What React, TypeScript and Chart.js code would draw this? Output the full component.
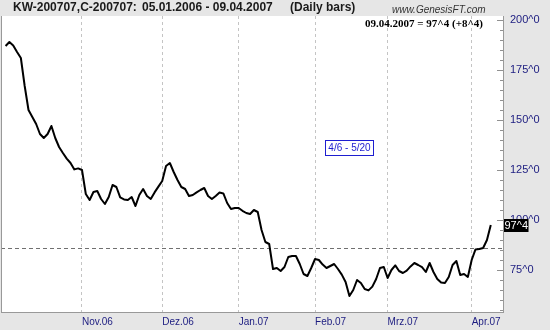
import React, { useEffect, useRef } from "react";
import { Chart, registerables } from "chart.js";

Chart.register(...registerables);

// Daily closes, one per trading day (index 0 = early Oct 2006, last = 09.04.2007)
const closes: number[] = [
  187, 189, 187.3, 184, 181, 167, 155, 151.5, 148, 143,
  141, 143, 147, 141, 136.5, 133.5, 130.7, 128.5, 125.3, 125.8,
  125, 113, 110, 114, 114.5, 110.5, 108, 111.5, 117.5, 116.5,
  111.3, 110.3, 110, 111.5, 107, 112.5, 115.5, 112, 110.5, 113.8,
  116.7, 119.5, 127, 128.5, 124, 120, 116.5, 115.5, 112, 112.5,
  113.8, 115, 116, 112, 110.5, 112, 113.7, 113.3, 108.5, 105.5,
  106, 106, 104.6, 103.5, 103, 105, 104, 95, 89, 88,
  75.5, 76, 74.5, 76.5, 81.5, 82, 82, 78, 73, 72,
  76, 80.5, 80, 77.7, 76, 77, 78, 75.5, 72.7, 69,
  62, 65, 70, 68.5, 65.5, 64.8, 66.7, 70.5, 76, 76.5,
  71, 75, 77.3, 74.5, 73.5, 74.7, 76.8, 78.5, 77.5, 76.4,
  74, 78.5, 74, 70.5, 68.7, 68.5, 71.5, 77.5, 79.5, 72.5,
  73, 71.5, 80, 85.3, 85.5, 86, 90, 97.5,
];

// Trading-day index of the first bar of each month, and its label
const monthTickIndex: number[] = [20, 41, 61, 81, 100, 122];
const monthLabels: string[] = ["Nov.06", "Dez.06", "Jan.07", "Feb.07", "Mrz.07", "Apr.07"];

// Price axis
const priceTicks: number[] = [75, 100, 125, 150, 175, 200];
const priceTickSuffix = "^0";
const minorStep = 5;

const refLevel = 86;
const lastLabel = "97^4";
const titleParts: string[] = ["KW-200707,C-200707:", "05.01.2006 - 09.04.2007", "(Daily bars)"];
const siteText = "www.GenesisFT.com";
const infoText = "09.04.2007 = 97^4 (+8^4)";
const boxText = "4/6 - 5/20";

const NAVY = "#1c1c80";
const BG = "#e6e6e6";
const SANS = "'Liberation Sans', Arial, sans-serif";
const SERIF = "'Liberation Serif', 'Times New Roman', serif";

export default function App() {
  const ref = useRef<HTMLCanvasElement | null>(null);

  useEffect(() => {
    if (!ref.current) return;

    const decor = {
      id: "decor",
      beforeDraw(chart: any) {
        const { ctx, chartArea: a } = chart;
        ctx.save();
        ctx.fillStyle = BG;
        ctx.fillRect(0, 0, chart.width, chart.height);
        ctx.fillStyle = "#ffffff";
        ctx.fillRect(a.left, a.top, a.right - a.left, a.bottom - a.top);
        ctx.restore();
      },
      beforeDatasetsDraw(chart: any) {
        const { ctx, chartArea: a } = chart;
        const y = Math.round(chart.scales.y.getPixelForValue(refLevel)) + 0.5;
        ctx.save();
        ctx.strokeStyle = "#707070";
        ctx.lineWidth = 1;
        ctx.setLineDash([4, 3]);
        ctx.beginPath();
        ctx.moveTo(a.left, y);
        ctx.lineTo(a.right, y);
        ctx.stroke();
        ctx.restore();
      },
      afterDraw(chart: any) {
        const { ctx, chartArea: a } = chart;
        const ys = chart.scales.y;
        ctx.save();
        // left border
        ctx.strokeStyle = "#999999";
        ctx.lineWidth = 1;
        ctx.beginPath();
        ctx.moveTo(a.left + 0.5, a.top);
        ctx.lineTo(a.left + 0.5, a.bottom);
        ctx.stroke();
        // inward tick marks on the price axis
        ctx.strokeStyle = "#909090";
        for (let v = Math.ceil(ys.min / minorStep) * minorStep; v <= ys.max; v += minorStep) {
          const y = Math.round(ys.getPixelForValue(v)) + 0.5;
          const len = priceTicks.includes(v) ? 6 : 3;
          ctx.beginPath();
          ctx.moveTo(a.right - len, y);
          ctx.lineTo(a.right, y);
          ctx.stroke();
        }
        // title
        ctx.fillStyle = "#1a1a1a";
        ctx.font = `bold 12px ${SANS}`;
        ctx.textAlign = "left";
        ctx.textBaseline = "middle";
        const titleX = [13, 142, 290];
        titleParts.forEach((t, k) => ctx.fillText(t, titleX[k], 8));
        // site
        ctx.fillStyle = "#333333";
        ctx.font = `italic 10px ${SANS}`;
        ctx.fillText(siteText, 392, 10);
        // info
        ctx.fillStyle = "#000000";
        ctx.font = `bold 11px ${SERIF}`;
        ctx.textAlign = "right";
        ctx.fillText(infoText, 483, 24);
        // blue box
        ctx.font = `10px ${SANS}`;
        ctx.textAlign = "center";
        const bw = ctx.measureText(boxText).width + 6;
        const cx = 349.5, cy = 148;
        ctx.fillStyle = "#ffffff";
        ctx.fillRect(Math.round(cx - bw / 2) + 0.5, cy - 7.5, Math.round(bw), 15);
        ctx.strokeStyle = "#1e1ed0";
        ctx.strokeRect(Math.round(cx - bw / 2) + 0.5, cy - 7.5, Math.round(bw), 15);
        ctx.fillStyle = "#1e1ed0";
        ctx.fillText(boxText, cx, cy + 0.5);
        // last value label
        const ly = ys.getPixelForValue(closes[closes.length - 1]);
        ctx.font = `11px ${SANS}`;
        const lw = ctx.measureText(lastLabel).width;
        ctx.fillStyle = "#000000";
        ctx.fillRect(a.right + 1, Math.round(ly) - 6, lw + 1, 13);
        ctx.fillStyle = "#ffffff";
        ctx.textAlign = "left";
        ctx.fillText(lastLabel, a.right + 1.5, Math.round(ly) + 0.5);
        ctx.restore();
      },
    };

    const chart = new Chart(ref.current, {
      type: "line",
      data: {
        datasets: [
          {
            data: closes.map((v, i) => ({ x: i, y: v })),
            borderColor: "#000000",
            borderWidth: 2,
            pointRadius: 0,
            tension: 0,
            borderJoinStyle: "round",
            fill: false,
          },
        ],
      },
      options: {
        animation: false,
        responsive: false,
        devicePixelRatio: 1,
        layout: { padding: { left: 1, top: 16, right: 0, bottom: 0 } },
        plugins: { legend: { display: false }, tooltip: { enabled: false } },
        scales: {
          x: {
            type: "linear",
            position: "bottom",
            min: -1.2,
            max: 130.2,
            afterBuildTicks: (s: any) => {
              s.ticks = monthTickIndex.map((v) => ({ value: v }));
            },
            afterFit: (s: any) => {
              s.height = 18;
            },
            ticks: {
              autoSkip: false,
              maxRotation: 0,
              align: "start",
              padding: 4,
              color: NAVY,
              font: { family: SANS, size: 10 },
              callback: (v: any) => {
                const k = monthTickIndex.indexOf(Number(v));
                return k >= 0 ? monthLabels[k] : "";
              },
            },
            grid: { color: "#c4c4c4", lineWidth: 1, drawTicks: false },
            border: { display: true, color: "#999999", width: 1, dash: [3, 3] },
          },
          y: {
            type: "linear",
            position: "right",
            min: 54,
            max: 202,
            afterBuildTicks: (s: any) => {
              s.ticks = priceTicks.map((v) => ({ value: v }));
            },
            afterFit: (s: any) => {
              s.width = 47;
            },
            ticks: {
              padding: 7,
              color: NAVY,
              font: { family: SANS, size: 11 },
              callback: (v: any) => `${v}${priceTickSuffix}`,
            },
            grid: { drawOnChartArea: false, drawTicks: false },
            border: { display: true, color: "#999999", width: 1 },
          },
        },
      },
      plugins: [decor],
    } as any);

    return () => chart.destroy();
  }, []);

  return (
    <div style={{ position: "absolute", left: 0, top: 0, width: 550, height: 330 }}>
      <canvas ref={ref} width={550} height={330} />
    </div>
  );
}
